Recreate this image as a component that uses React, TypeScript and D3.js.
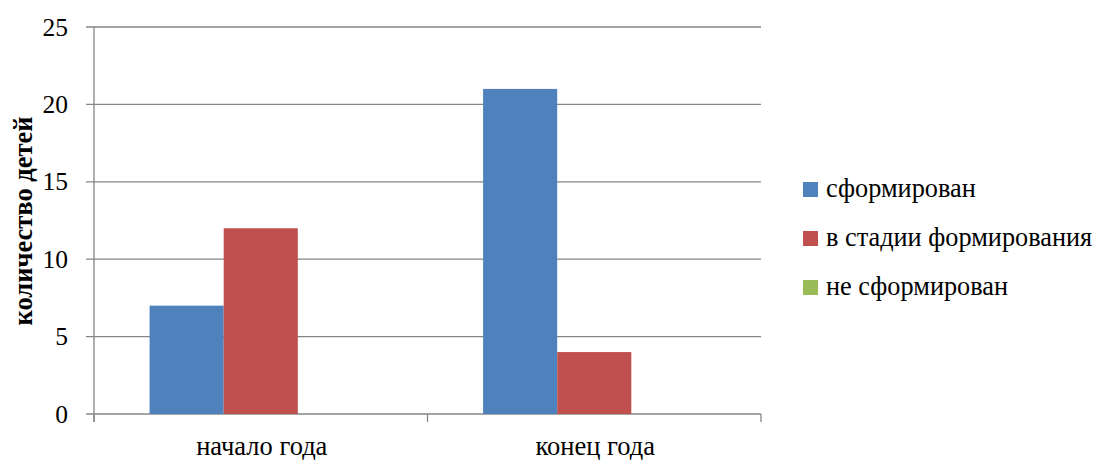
import React from "react";
import * as d3 from "d3";

const categories = ["начало года", "конец года"];
const seriesNames = ["сформирован", "в стадии формирования", "не сформирован"];
const seriesColors = ["#4F81BD", "#C0504D", "#9BBB59"];
const formed = [7, 21];
const forming = [12, 4];
const notFormed = [0, 0];
const yTicks = [0, 5, 10, 15, 20, 25];
const yTitle = "количество детей";

const FONT = "'Liberation Serif', 'Times New Roman', serif";

export default function App() {
  const W = 1100, H = 460;
  const left = 94, right = 761, top = 27, bottom = 414;
  const series = [formed, forming, notFormed];
  const x0 = d3.scaleBand<string>().domain(categories).range([left, right]).paddingInner(0).paddingOuter(0);
  const bw = x0.bandwidth();
  const barW = bw / (3 + 1.5);
  const y = d3.scaleLinear().domain([0, 25]).range([bottom, top]);
  const grid = "#868686";
  return (
    <svg width={W} height={H} style={{ position: "absolute", left: 0, top: 0, background: "#fff" }}>
      {yTicks.map((t) => (
        <g key={t}>
          <line x1={left - 8} x2={right} y1={y(t)} y2={y(t)} stroke={grid} strokeWidth={1.3} />
          <text x={68} y={y(t) + 8.5} textAnchor="end" fontFamily={FONT} fontSize={25.5} fill="#000">{t}</text>
        </g>
      ))}
      {categories.map((c, ci) =>
        series.map((s, si) => {
          const v = s[ci];
          if (!v) return null;
          const bx = (x0(c) as number) + barW * 0.75 + si * barW;
          return <rect key={c + si} x={bx} y={y(v)} width={barW} height={y(0) - y(v)} fill={seriesColors[si]} />;
        })
      )}
      <line x1={left} x2={left} y1={top} y2={bottom + 8} stroke={grid} strokeWidth={1.3} />
      {[...categories.map((c) => x0(c) as number), right].map((xx, i) => (
        <line key={i} x1={xx} x2={xx} y1={bottom} y2={bottom + 8} stroke={grid} strokeWidth={1.3} />
      ))}
      {categories.map((c) => (
        <text key={c} x={(x0(c) as number) + bw / 2 + 1} y={455} textAnchor="middle" fontFamily={FONT} fontSize={26.5} fill="#000">{c}</text>
      ))}
      <text transform={`translate(32,221) rotate(-90)`} textAnchor="middle" fontFamily={FONT} fontSize={26.5} fontWeight="bold" fill="#000">{yTitle}</text>
      {seriesNames.map((n, i) => (
        <g key={n}>
          <rect x={803} y={182 + i * 49} width={15} height={15} fill={seriesColors[i]} />
          <text x={826} y={197 + i * 49} fontFamily={FONT} fontSize={26.3} fill="#000">{n}</text>
        </g>
      ))}
    </svg>
  );
}
